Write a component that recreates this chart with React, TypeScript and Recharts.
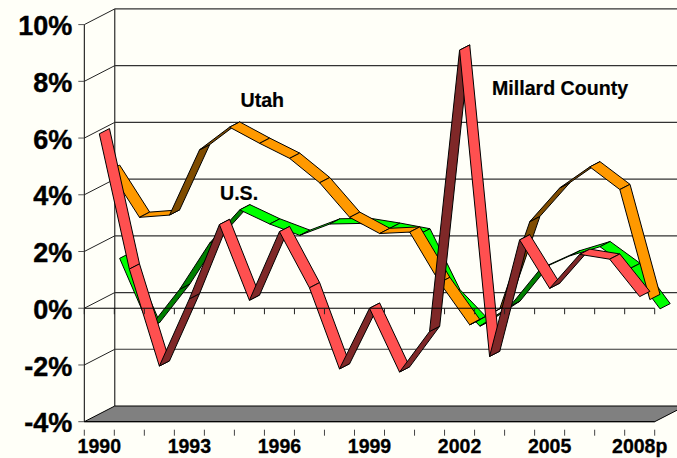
import React from "react";
import { ComposedChart, Line, XAxis, YAxis, ReferenceLine } from "recharts";

const years = ["1990","1991","1992","1993","1994","1995","1996","1997","1998","1999","2000","2001","2002","2003","2004","2005","2006","2007","2008p"];
const millard = [6.15,1.38,-2.04,0.33,2.95,0.28,2.7,0.72,-2.14,0,-2.25,-0.82,9.1,-1.7,2.41,0.7,1.9,1.73,0.41];
const utah = [4.68,3.02,3.1,5.4,6.2,5.63,5.1,4.24,3.02,2.45,2.5,0.72,-0.77,-0.2,2.87,4.06,4.8,4.0,0.12];
const us = [1.39,-1.05,0.3,1.93,3.1,2.6,2.2,2.6,2.62,2.45,2.25,0.1,-1.0,-0.3,1.0,1.48,1.8,1.03,-0.39];
const shownYears = ["1990","1993","1996","1999","2002","2005","2008p"];
const yTicks = [-4,-2,0,2,4,6,8,10];
const wallLines = [-2,0,2,4,6,8,10];

const W = 677, H = 458;
const LEFT = 84.3, RIGHT = 654.7, TOP = 24.6, BOTTOM = 421.7;
const BAND = (RIGHT - LEFT) / years.length;
const DEPTH_X = 30.5, DEPTH_Y = 15.7;
const BG = "#FFFFF8";
const FONT = "'Liberation Sans', Arial, sans-serif";

const rows = years.map((year, i) => ({ year, millard: millard[i], utah: utah[i], us: us[i] }));

function ribbonDot(slot: number, bright: string, dark: string) {
  const dx = DEPTH_X / 3, dy = DEPTH_Y / 3;
  return (props: any) => {
    const { index, points, cx, cy } = props;
    const next = points && points[index + 1];
    if (!next) return <g key={index} />;
    const x0 = cx + slot * dx, y0 = cy - slot * dy;
    const x1 = next.x + slot * dx, y1 = next.y - slot * dy;
    const up = (next.y - cy) / (next.x - cx) < -dy / dx;
    const pts = `${x0},${y0} ${x1},${y1} ${x1 + dx},${y1 - dy} ${x0 + dx},${y0 - dy}`;
    return <polygon key={index} points={pts} fill={up ? dark : bright} stroke="#000" strokeWidth={1} strokeLinejoin="round" />;
  };
}

const WallLine = (props: any) => {
  const { x1, y1 } = props;
  return (
    <g>
      <line x1={x1} y1={y1} x2={x1 + DEPTH_X} y2={y1 - DEPTH_Y} stroke="#222" strokeWidth={1} />
      <line x1={x1 + DEPTH_X} y1={y1 - DEPTH_Y} x2={W} y2={y1 - DEPTH_Y} stroke="#333" strokeWidth={1.2} />
    </g>
  );
};

const Floor = (props: any) => {
  const { x1, x2, y1 } = props;
  const pts = `${x1},${y1} ${x2},${y1} ${x2 + DEPTH_X},${y1 - DEPTH_Y} ${x1 + DEPTH_X},${y1 - DEPTH_Y}`;
  return (
    <g>
      <line x1={x1 + DEPTH_X} y1={TOP - DEPTH_Y} x2={x1 + DEPTH_X} y2={y1 - DEPTH_Y} stroke="#000" strokeWidth={1} />
      <polygon points={pts} fill="#808080" stroke="#000" strokeWidth={1} />
    </g>
  );
};

const ZeroLine = (props: any) => {
  const { x1, x2, y1 } = props;
  return (
    <g>
      <line x1={x1} y1={y1} x2={x2} y2={y1} stroke="#000" strokeWidth={1} />
      {years.map((_, i) => (
        <line key={i} x1={x1 + (i + 1) * BAND} y1={y1} x2={x1 + (i + 1) * BAND} y2={y1 + 6} stroke="#222" strokeWidth={1} />
      ))}
      <line x1={x1} y1={y1} x2={x1} y2={y1 + 6} stroke="#222" strokeWidth={1} />
    </g>
  );
};

const YearTick = (props: any) => {
  const { x, y, payload, index } = props;
  const label = payload.value;
  return (
    <g>
      <line x1={x - BAND / 2} y1={y} x2={x - BAND / 2} y2={y + 6} stroke="#444" />
      {index === years.length - 1 && <line x1={x + BAND / 2} y1={y} x2={x + BAND / 2} y2={y + 6} stroke="#444" />}
      {shownYears.includes(label) && (
        <text x={x} y={BOTTOM + 31} textAnchor="middle" fontFamily={FONT} fontWeight="bold" fontSize={19.5} stroke="#000" strokeWidth={0.3} fill="#000">{label}</text>
      )}
    </g>
  );
};

const labelStyle = { fontFamily: FONT, fontWeight: "bold", fontSize: 19.6, fill: "#000", stroke: "#000", strokeWidth: 0.2 } as const;

export default function App() {
  return (
    <div style={{ position: "absolute", left: 0, top: 0, width: W, height: H, background: BG, overflow: "hidden" }}>
      <ComposedChart width={W} height={H} data={rows} margin={{ left: 0, top: TOP, right: W - RIGHT, bottom: 0 }}>
        <YAxis
          type="number"
          domain={[-4, 10]}
          ticks={yTicks}
          interval={0}
          width={LEFT}
          tickFormatter={(v: number) => `${v}%`}
          tickSize={6}
          tickMargin={6}
          stroke="#000"
          tickLine={{ stroke: "#555" }}
          tick={{ fontFamily: FONT, fontWeight: "bold", fontSize: 27, fill: "#000", stroke: "#000", strokeWidth: 0.4, dy: 1 }}
        />
        <XAxis
          dataKey="year"
          scale="band"
          height={H - BOTTOM}
          interval={0}
          tickLine={false}
          axisLine={{ stroke: "#000" }}
          tick={YearTick}
        />
        <ReferenceLine y={-4} shape={Floor} />
        {wallLines.map((v) => <ReferenceLine key={v} y={v} shape={WallLine} />)}
        <Line dataKey="us" isAnimationActive={false} stroke="none" legendType="none" dot={ribbonDot(2, "#00FF00", "#008000")} activeDot={false} />
        <Line dataKey="utah" isAnimationActive={false} stroke="none" legendType="none" dot={ribbonDot(1, "#FF9900", "#7F4C00")} activeDot={false} />
        <Line dataKey="millard" isAnimationActive={false} stroke="none" legendType="none" dot={ribbonDot(0, "#FF5050", "#7F2828")} activeDot={false} />
        <ReferenceLine y={0} shape={ZeroLine} zIndex={1000} />
        <text x={240.5} y={107} {...labelStyle}>Utah</text>
        <text x={220} y={200} {...labelStyle}>U.S.</text>
        <text x={492} y={95} {...labelStyle}>Millard County</text>
      </ComposedChart>
    </div>
  );
}
